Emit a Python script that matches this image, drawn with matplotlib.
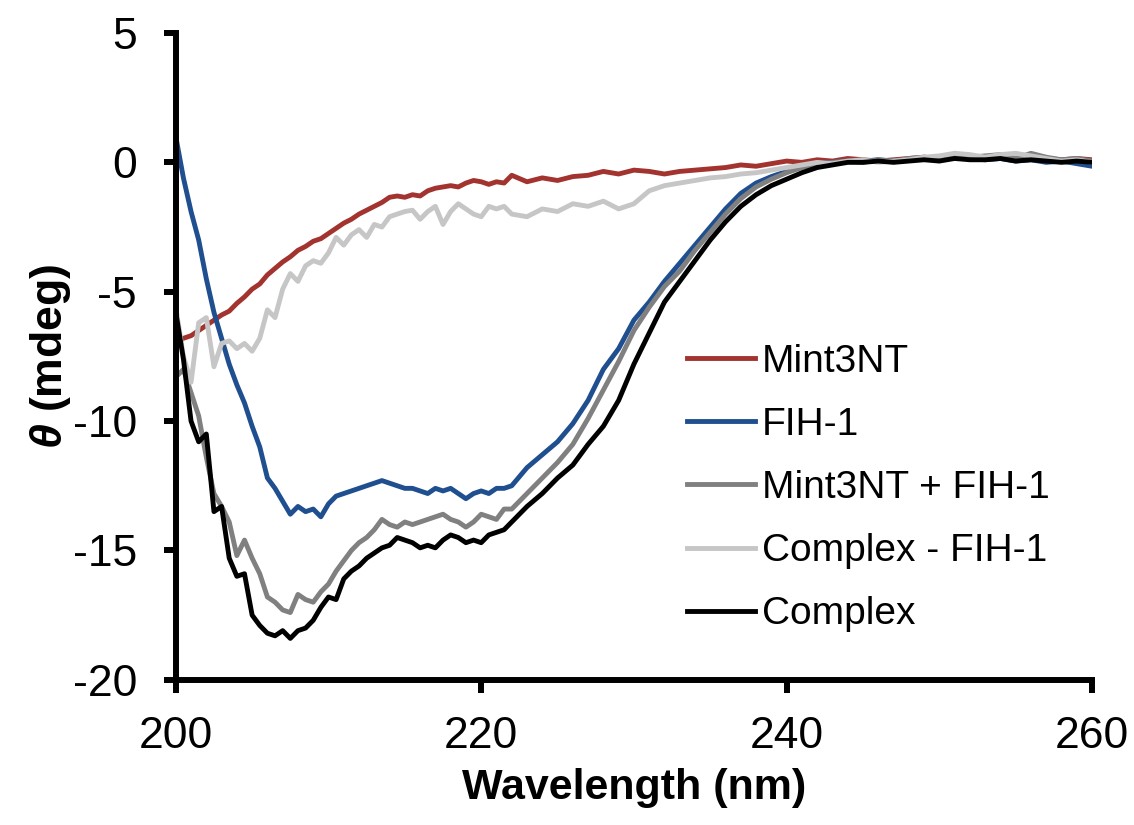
import numpy as np
import matplotlib.pyplot as plt

plt.rcParams['font.family'] = ['Liberation Sans', 'DejaVu Sans']
plt.rcParams['mathtext.fontset'] = 'custom'
plt.rcParams['mathtext.it'] = 'Liberation Sans:italic:bold'
plt.rcParams['mathtext.rm'] = 'Liberation Sans:bold'
plt.rcParams['axes.unicode_minus'] = False

# wavelength grid: 0.5 nm steps up to 222, then 1 nm
wavelength = np.concatenate([np.arange(200, 222, 0.5), np.arange(222, 261, 1.0)])

mint3nt = [-7.0, -6.8, -6.7, -6.5, -6.3, -6.1, -5.9, -5.75, -5.45, -5.2, -4.9, -4.7, -4.35, -4.1,
           -3.85, -3.65, -3.4, -3.25, -3.05, -2.95, -2.75, -2.55, -2.35, -2.2, -2.0, -1.85, -1.7, -1.55,
           -1.35, -1.3, -1.35, -1.25, -1.3, -1.1, -1.0, -0.95, -0.9, -0.95, -0.8, -0.7, -0.75, -0.85,
           -0.75, -0.8,
           -0.5, -0.75, -0.6, -0.7, -0.55, -0.5, -0.35, -0.45, -0.3, -0.35, -0.45, -0.35, -0.3, -0.25,
           -0.2, -0.1, -0.15, -0.05, 0.05, 0.0, 0.1, 0.05, 0.15, 0.1, 0.05, 0.1, 0.15, 0.2, 0.15, 0.25,
           0.2, 0.2, 0.25, 0.15, 0.2, 0.15, 0.1, 0.15, 0.1]

fih1 = [1.0, -0.6, -1.9, -3.0, -4.5, -5.8, -6.8, -7.8, -8.6, -9.3, -10.2, -11.0, -12.2, -12.6,
        -13.1, -13.6, -13.3, -13.5, -13.4, -13.7, -13.2, -12.9, -12.8, -12.7, -12.6, -12.5, -12.4, -12.3,
        -12.4, -12.5, -12.6, -12.6, -12.7, -12.8, -12.6, -12.7, -12.6, -12.8, -13.0, -12.8, -12.7, -12.8,
        -12.6, -12.6,
        -12.5, -11.8, -11.3, -10.8, -10.1, -9.2, -8.0, -7.2, -6.1, -5.4, -4.6, -3.9, -3.2, -2.5,
        -1.8, -1.2, -0.8, -0.55, -0.35, -0.15, -0.05, 0.0, 0.05, 0.05, 0.1, 0.05, 0.1, 0.15, 0.1, 0.2,
        0.15, 0.1, 0.15, 0.05, 0.1, 0.0, 0.05, -0.05, -0.15]

mint3nt_plus_fih1 = [-8.3, -8.0, -8.9, -9.8, -11.4, -12.8, -13.3, -13.9, -15.2, -14.6, -15.3, -15.9, -16.8, -17.0,
                     -17.3, -17.4, -16.7, -16.9, -17.0, -16.6, -16.3, -15.8, -15.4, -15.0, -14.7, -14.5, -14.2, -13.8,
                     -14.0, -14.1, -13.9, -14.0, -13.9, -13.8, -13.7, -13.6, -13.8, -13.9, -14.1, -13.9, -13.6, -13.7,
                     -13.8, -13.4,
                     -13.4, -12.8, -12.2, -11.6, -10.9, -9.9, -8.8, -7.7, -6.5, -5.6, -4.8, -4.2, -3.4, -2.7,
                     -2.0, -1.4, -0.95, -0.65, -0.4, -0.2, -0.1, 0.0, 0.05, 0.0, 0.1, 0.05, 0.15, 0.2, 0.15, 0.3,
                     0.2, 0.25, 0.3, 0.15, 0.35, 0.2, 0.1, 0.15, 0.05]

complex_minus_fih1 = [-5.6, -7.5, -8.5, -6.2, -6.0, -7.9, -7.0, -6.9, -7.2, -7.0, -7.3, -6.8, -5.7, -6.0,
                      -4.9, -4.3, -4.6, -4.0, -3.8, -3.9, -3.5, -2.9, -3.2, -2.8, -2.6, -2.9, -2.4, -2.5,
                      -2.1, -2.0, -1.9, -1.85, -2.2, -1.9, -1.7, -2.4, -1.9, -1.6, -1.8, -2.0, -2.1, -1.7,
                      -1.8, -1.7,
                      -2.0, -2.1, -1.8, -1.9, -1.6, -1.7, -1.5, -1.8, -1.6, -1.1, -0.9, -0.8, -0.7, -0.6,
                      -0.55, -0.45, -0.4, -0.3, -0.2, -0.1, 0.0, -0.05, 0.05, 0.1, 0.0, 0.05, 0.1, 0.2, 0.25, 0.35,
                      0.3, 0.2, 0.3, 0.35, 0.25, 0.15, 0.05, 0.1, 0.0]

complex_ = [-5.8, -7.6, -10.0, -10.8, -10.5, -13.5, -13.3, -15.3, -16.0, -15.9, -17.5, -17.9, -18.2, -18.3,
            -18.1, -18.4, -18.1, -18.0, -17.7, -17.2, -16.8, -16.9, -16.1, -15.8, -15.6, -15.3, -15.1, -14.9,
            -14.8, -14.5, -14.6, -14.7, -14.9, -14.8, -14.9, -14.6, -14.4, -14.5, -14.7, -14.6, -14.7, -14.4,
            -14.3, -14.2,
            -13.9, -13.3, -12.8, -12.2, -11.7, -10.9, -10.2, -9.2, -7.8, -6.6, -5.4, -4.6, -3.8, -3.0,
            -2.3, -1.7, -1.25, -0.9, -0.65, -0.4, -0.2, -0.1, 0.0, 0.0, 0.05, 0.0, 0.05, 0.1, 0.05, 0.15,
            0.1, 0.1, 0.15, 0.05, 0.1, 0.05, 0.0, 0.05, 0.0]

series = [
    ('Mint3NT', mint3nt, '#a2332f'),
    ('FIH-1', fih1, '#1f4f8f'),
    ('Mint3NT + FIH-1', mint3nt_plus_fih1, '#808080'),
    ('Complex - FIH-1', complex_minus_fih1, '#c6c6c6'),
    ('Complex', complex_, '#000000'),
]

fig = plt.figure(figsize=(11.34, 8.25), dpi=100)
ax = fig.add_axes([0.155, 0.176, 0.808, 0.784])

for label, vals, color in series:
    ax.plot(wavelength, vals, color=color, lw=3.5, label=label)

ax.set_xlim(200, 260)
ax.set_ylim(-20, 5)
ax.set_xticks([200, 220, 240, 260])
ax.set_yticks([-20, -15, -10, -5, 0, 5])

for side in ['top', 'right']:
    ax.spines[side].set_visible(False)
for side in ['left', 'bottom']:
    ax.spines[side].set_linewidth(4.3)
ax.tick_params(direction='out', length=9, width=4.3, labelsize=32)
ax.tick_params(axis='x', pad=17)
ax.tick_params(axis='y', pad=19)

ax.set_xlabel('Wavelength (nm)', fontsize=31, fontweight='bold', labelpad=8)
ax.set_ylabel(r'$\theta$ (mdeg)', fontsize=32, fontweight='bold', labelpad=0)

ax.legend(loc='upper left', bbox_to_anchor=(0.537, 0.55), frameon=False, fontsize=28,
          handlelength=1.75, handletextpad=0.17, labelspacing=0.7, borderpad=0)

fig.savefig('out.png', dpi=100)
